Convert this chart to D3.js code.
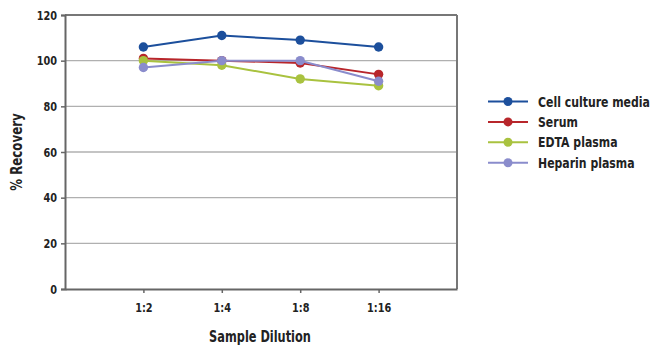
<!DOCTYPE html>
<html><head><meta charset="utf-8">
<script src="https://cdn.jsdelivr.net/npm/d3@7"></script>
<style>
body{margin:0;background:#fff;}
svg text{font-family:"DejaVu Sans",sans-serif;font-weight:bold;fill:#222;}
</style></head>
<body><svg id="c" width="650" height="358"></svg>
<script>
const categories = ["1:2","1:4","1:8","1:16"];
const seriesNames = ["Cell culture media","Serum","EDTA plasma","Heparin plasma"];
const cellCulture = [106,111,109,106];
const serum = [101,100,99,94];
const edta = [100,98,92,89];
const heparin = [97,100,100,91];
const yTicks = [0,20,40,60,80,100,120];
const colors = ["#1c4f9c","#b8262b","#a9c23f","#8a8ccc"];
const seriesValues = [cellCulture, serum, edta, heparin];

const svg = d3.select("#c");
const L=65, R=457, T=15, B=289;
const SX=0.75; // horizontal squeeze to mimic a condensed face
const x = d3.scalePoint().domain(categories).range([L,R]).padding(1);
const y = d3.scaleLinear().domain([0,120]).range([B,T]);

svg.append("g").selectAll("line").data(yTicks.filter(d=>d>0&&d<120)).join("line")
  .attr("x1",L).attr("x2",R).attr("y1",d=>y(d)).attr("y2",d=>y(d))
  .attr("stroke","#b0b0b0").attr("stroke-width",1.3);

svg.append("line").attr("x1",L).attr("x2",R).attr("y1",T).attr("y2",T).attr("stroke","#777").attr("stroke-width",2);
svg.append("line").attr("x1",R).attr("x2",R).attr("y1",T).attr("y2",B).attr("stroke","#777").attr("stroke-width",2);

const ya = svg.append("g").attr("transform",`translate(${L},0)`)
  .call(d3.axisLeft(y).tickValues(yTicks).tickSize(4));
ya.select(".domain").attr("stroke","#666").attr("stroke-width",2);
ya.selectAll(".tick line").attr("stroke","#666").attr("stroke-width",1.5);
ya.selectAll("text").style("font-size","13px")
  .attr("x",-8/SX).attr("transform",`scale(${SX},1)`);

const xa = svg.append("g").attr("transform",`translate(0,${B})`)
  .call(d3.axisBottom(x).tickSize(4).tickPadding(10).tickSizeOuter(0));
xa.select(".domain").attr("stroke","#666").attr("stroke-width",2);
xa.selectAll(".tick line").attr("stroke","#666").attr("stroke-width",1.5);
xa.selectAll("text").style("font-size","13px").attr("transform",`scale(${SX},1)`);

const line = d3.line().x((d,i)=>x(categories[i])).y(d=>y(d));
seriesValues.forEach((vals,si)=>{
  const g = svg.append("g");
  g.append("path").datum(vals).attr("d",line).attr("fill","none")
    .attr("stroke",colors[si]).attr("stroke-width",2);
  g.selectAll("circle").data(vals).join("circle")
    .attr("cx",(d,i)=>x(categories[i])).attr("cy",d=>y(d)).attr("r",4.7)
    .attr("fill",colors[si]);
});

const lg = svg.append("g");
seriesNames.forEach((n,i)=>{
  const yy = 101.5 + i*20.4;
  lg.append("line").attr("x1",488).attr("x2",528).attr("y1",yy).attr("y2",yy)
    .attr("stroke",colors[i]).attr("stroke-width",2);
  lg.append("circle").attr("cx",508).attr("cy",yy).attr("r",4.5).attr("fill",colors[i]);
  lg.append("text").attr("transform",`translate(538,${yy}) scale(0.78,1)`).attr("dy","0.36em")
    .style("font-size","14px").text(n);
});

svg.append("text").attr("transform","translate(260,341.5) scale(0.71,1)").attr("text-anchor","middle")
  .style("font-size","16px").text("Sample Dilution");
svg.append("text").attr("transform","translate(22,152) rotate(-90) scale(0.74,1)").attr("text-anchor","middle")
  .style("font-size","16px").text("% Recovery");
</script></body></html>
